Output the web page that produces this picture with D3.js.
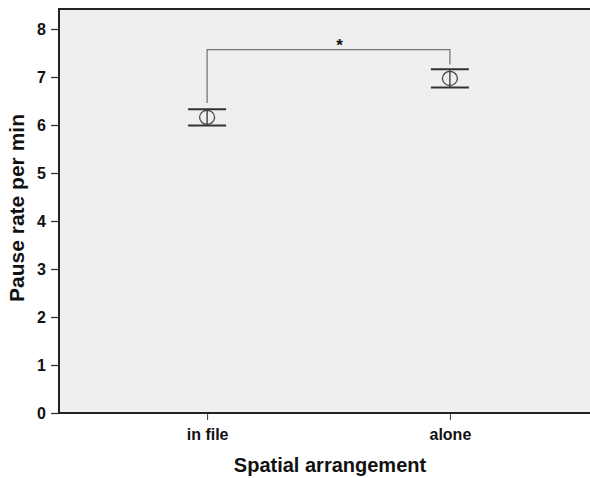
<!DOCTYPE html>
<html>
<head>
<meta charset="utf-8">
<script src="https://cdn.jsdelivr.net/npm/d3@7"></script>
<style>
  body { margin: 0; background: #fff; }
  text { font-family: "Liberation Sans", Arial, sans-serif; fill: #111; }
</style>
</head>
<body>
<div id="chart"></div>
<script>
var categories = ["in file", "alone"];
var means = [6.16, 6.97];
var lower = [5.99, 6.78];
var upper = [6.33, 7.16];
var bracketLevel = 7.57;
var bracketEnds = [6.46, 7.26];
var yTicks = [0, 1, 2, 3, 4, 5, 6, 7, 8];

var width = 590, height = 478;

var svg = d3.select("#chart").append("svg")
    .attr("width", width)
    .attr("height", height);

var x = d3.scalePoint()
    .domain(categories)
    .range([59, 598])
    .padding(0.61);

var y = d3.scaleLinear()
    .domain([0, 8])
    .range([413, 29]);

// plot background
svg.append("rect")
    .attr("x", 59)
    .attr("y", 9)
    .attr("width", width - 59)
    .attr("height", 413 - 9)
    .attr("fill", "#efefef");

// top border
svg.append("line")
    .attr("x1", 59).attr("x2", width)
    .attr("y1", 9).attr("y2", 9)
    .attr("stroke", "#222").attr("stroke-width", 2);

var yAxis = svg.append("g")
    .attr("transform", "translate(59,0)")
    .call(d3.axisLeft(y).tickValues(yTicks).tickSize(8).tickPadding(5).tickFormat(d3.format("d")));
yAxis.select(".domain").attr("d", "M0,8V414").attr("stroke", "#222").attr("stroke-width", 2);
yAxis.selectAll(".tick line").attr("stroke", "#333").attr("stroke-width", 1.3);
yAxis.selectAll(".tick text")
    .attr("font-size", 16)
    .attr("font-weight", "bold")
    .attr("font-family", "Liberation Sans, Arial, sans-serif")
    .attr("fill", "#222");

var xAxis = svg.append("g")
    .attr("transform", "translate(0,413)")
    .call(d3.axisBottom(x).tickSize(7).tickPadding(9));
xAxis.select(".domain").attr("d", "M58,0H" + width).attr("stroke", "#222").attr("stroke-width", 2);
xAxis.selectAll(".tick line").attr("stroke", "#333").attr("stroke-width", 1);
xAxis.selectAll(".tick text")
    .attr("font-size", 16)
    .attr("font-weight", "bold")
    .attr("font-family", "Liberation Sans, Arial, sans-serif")
    .attr("fill", "#222");

// axis titles
svg.append("text")
    .attr("transform", "translate(24,208) rotate(-90)")
    .attr("text-anchor", "middle")
    .attr("font-size", 21)
    .attr("font-weight", "bold")
    .text("Pause rate per min");

svg.append("text")
    .attr("x", 330)
    .attr("y", 472)
    .attr("text-anchor", "middle")
    .attr("font-size", 20)
    .attr("font-weight", "bold")
    .text("Spatial arrangement");

// significance bracket
svg.append("path")
    .attr("d", "M" + x(categories[0]) + "," + y(bracketEnds[0]) +
               "V" + y(bracketLevel) +
               "H" + x(categories[1]) +
               "V" + y(bracketEnds[1]))
    .attr("fill", "none")
    .attr("stroke", "#777")
    .attr("stroke-width", 1.3);

svg.append("text")
    .attr("x", (x(categories[0]) + x(categories[1])) / 2 + 11)
    .attr("y", y(bracketLevel) + 1)
    .attr("text-anchor", "middle")
    .attr("font-size", 17)
    .attr("font-weight", "bold")
    .text("*");

// error bars with means
var g = svg.selectAll(".eb")
    .data(categories)
    .enter().append("g")
    .attr("class", "eb");

g.append("line")
    .attr("x1", function(d) { return x(d); })
    .attr("x2", function(d) { return x(d); })
    .attr("y1", function(d, i) { return y(upper[i]); })
    .attr("y2", function(d, i) { return y(lower[i]); })
    .attr("stroke", "#333").attr("stroke-width", 1.3);

g.append("line")
    .attr("x1", function(d) { return x(d) - 19; })
    .attr("x2", function(d) { return x(d) + 19; })
    .attr("y1", function(d, i) { return y(upper[i]); })
    .attr("y2", function(d, i) { return y(upper[i]); })
    .attr("stroke", "#333").attr("stroke-width", 2);

g.append("line")
    .attr("x1", function(d) { return x(d) - 19; })
    .attr("x2", function(d) { return x(d) + 19; })
    .attr("y1", function(d, i) { return y(lower[i]); })
    .attr("y2", function(d, i) { return y(lower[i]); })
    .attr("stroke", "#333").attr("stroke-width", 2);

g.append("ellipse")
    .attr("cx", function(d) { return x(d); })
    .attr("cy", function(d, i) { return y(means[i]); })
    .attr("rx", 7.5)
    .attr("ry", 7)
    .attr("fill", "none")
    .attr("stroke", "#444")
    .attr("stroke-width", 1.3);
</script>
</body>
</html>
